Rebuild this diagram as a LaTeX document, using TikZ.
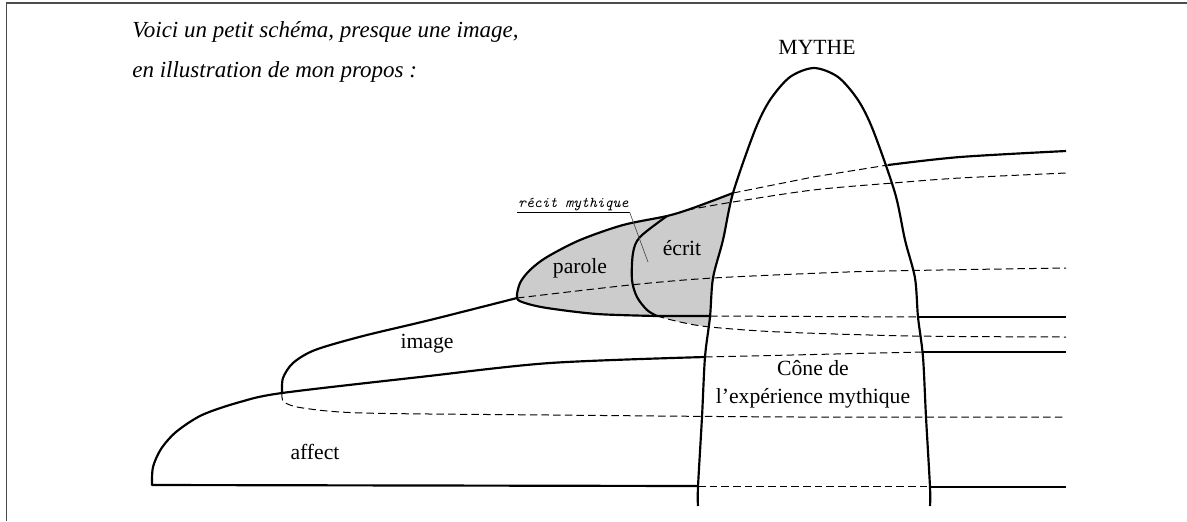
\documentclass[tikz,border=0pt]{standalone}
\usepackage{fontspec}
\setmainfont{Liberation Serif}
\usepackage{tikz}

\begin{document}
\begin{tikzpicture}[x=0.6pt, y=-0.6pt,
    contour/.style={line width=1.3pt, line join=round},
    hidden/.style={line width=0.6pt, dash pattern=on 4.5pt off 2.5pt},
    header/.style={font=\itshape\fontsize{13.8}{16}\selectfont, inner sep=0pt},
    word/.style={font=\fontsize{13}{15}\selectfont, inner sep=0pt},
    recitword/.style={font=\ttfamily\itshape\fontsize{9}{10}\selectfont, inner sep=0.5pt}]
    \useasboundingbox (0,0) rectangle (1187,521);
    \draw [line width=0.9pt, black!70] (6.5,521) -- (6.5,3) -- (1187,3);
    \coordinate (parT) at (517,298);
    \coordinate (imgT) at (282,393);
    \coordinate (ecrT) at (667,216);
    \coordinate (ecrB) at (657,316);
    \fill [gray!40] plot [smooth] coordinates {(parT) (520,283) (530,270) (547,257) (580,240) (623,225) (ecrT) (693,208) (733,193)}
        -- plot [smooth] coordinates {(733,193) (723,240) (713,278) (710,317) (709,327)}
        -- plot [smooth] coordinates {(709,327) (680,322) (ecrB)}
        -- plot [smooth] coordinates {(ecrB) (597,314) (547,308) (525,303) (parT)} -- cycle;
    \draw [hidden] plot [smooth] coordinates {(parT) (630,285) (713,278) (847,272) (940,270) (1066,268)};
    \draw [hidden] plot [smooth] coordinates {(imgT) (284,402) (303,408) (363,413) (550,415) (800,417) (1066,417)};
    \draw [hidden] plot [smooth] coordinates {(687,210) (733,202) (813,190) (893,183) (960,178) (1066,173)};
    \draw [hidden] plot [smooth] coordinates {(ecrB) (680,322) (710,327) (780,332) (913,336) (1066,337)};
    \draw [hidden] (733,193) -- (813,177) -- (888,165);
    \draw [hidden] (710,316) -- (918,317);
    \draw [hidden] (705,357) -- (922,352);
    \draw [hidden] (698,486) -- (930,486);
    \draw [contour] (698,486) -- (152,485) -- plot [smooth] coordinates {(152,485) (153,467) (161,449) (176,432) (202,415) (240,402) (imgT) (420,377) (550,363) (705,357)};
    \draw [contour] plot [smooth] coordinates {(imgT) (283,378) (293,363) (315,350) (363,336) (430,320) (parT)};
    \draw [contour] plot [smooth] coordinates {(733,193) (693,208) (ecrT) (623,225) (580,240) (547,257) (530,270) (520,283) (parT) (525,303) (547,308) (597,314) (ecrB)} -- (710,316);
    \draw [contour] plot [smooth] coordinates {(ecrT) (640,237) (633,253) (632,280) (637,297) (647,310) (ecrB)};
    \draw [contour] plot [smooth] coordinates {(888,165) (960,157) (1066,151)};
    \draw [contour] (918,317) -- (1066,317);
    \draw [contour] (922,352) -- (1066,352);
    \draw [contour] (930,487) -- (1066,487);
    \draw [contour] plot [smooth] coordinates {(698,506) (698,487) (702,417) (705,357) (710,317) (713,278) (723,240) (733,193) (755,130) (770,100) (790,77) (814,68) (838,77) (858,100) (873,130) (895,193) (905,240) (915,278) (918,317) (923,357) (926,417) (930,487) (930,506)};
    \node [header, anchor=base west] (intro1) at (132,37) {Voici un petit schéma, presque une image,};
    \node [header, anchor=base west] (intro2) at (132,77) {en illustration de mon propos :};
    \node [word] (mythe) at (817,47) {MYTHE};
    \node [word] (parole) at (580,268) {parole};
    \node [word] (ecrit) at (682,248) {écrit};
    \node [word] (image) at (427,344) {image};
    \node [word] (affect) at (315,452) {affect};
    \node [word] (cone1) at (813,368) {Cône de};
    \node [word] (cone2) at (813,398) {l’expérience mythique};
    \node [recitword, anchor=south west] (recit) at (517,212) {récit mythique};
    \coordinate (recitP) at (648,262);
    \draw [line width=0.5pt] (recit.south west) -- (recit.south east);
    \draw [line width=0.4pt, black!70] (recit.south east) -- (recitP);
\end{tikzpicture}
\end{document}
